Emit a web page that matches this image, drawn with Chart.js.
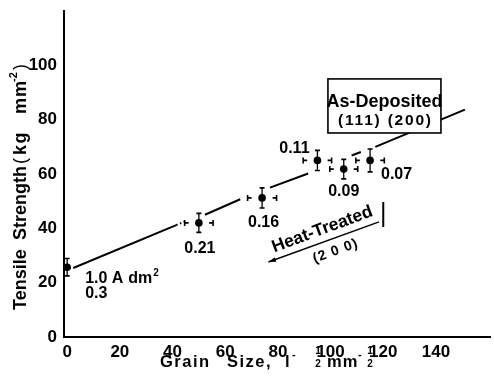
<!DOCTYPE html>
<html><head><meta charset="utf-8">
<script src="https://cdn.jsdelivr.net/npm/chart.js@4.4.1/dist/chart.umd.min.js"></script>
<style>html,body{margin:0;padding:0;background:#fff}canvas{display:block}</style>
</head><body>
<canvas id="c" width="494" height="380"></canvas>
<script>
// ---- data ----
const grainSize   = [0, 50, 74, 95, 105, 115];
const tensile     = [25.7, 42, 51.2, 65, 61.8, 65];
const tensileErr  = [3.2, 3.5, 3.7, 3.7, 3.6, 4.2];
const grainErr    = [0, 5.4, 5.5, 5.4, 5.3, 5.4];
const pointLabels = ['0.3', '0.21', '0.16', '0.11', '0.09', '0.07'];
const trendX  = [2.3, 41.4, 47, 52.3, 65.7, 71, 77, 91.5, 100, 108, 111.5, 114, 117, 151];
const trendY  = [25.4, 41.2, null, 45, 50.7, null, 55, 60.2, null, 66.8, 68.1, null, 70, 83.7];
const dottedX = [41.4, 45.5];
const dottedY = [41.2, 42.8];
const xTicks  = [0, 20, 40, 60, 80, 100, 120, 140];
const yTicks  = [0, 20, 40, 60, 80, 100];

// ---- styles ----
const FONT = 'Liberation Sans, Arial, sans-serif';
const labelOffsets = [null, [1, 26], [1.5, 25], [-23, -12], [0, 22.5], [26.5, 14]];

function txt(ctx, s, x, y, size, opts = {}) {
  ctx.save();
  ctx.font = (opts.weight || 'bold') + ' ' + size + 'px ' + FONT;
  ctx.fillStyle = '#000';
  ctx.textAlign = opts.align || 'left';
  ctx.textBaseline = opts.baseline || 'alphabetic';
  ctx.letterSpacing = (opts.ls || 0) + 'px';
  ctx.fillText(s, x, y);
  ctx.restore();
}

const decor = {
  id: 'decor',
  afterDatasetsDraw(chart) {
    const ctx = chart.ctx;
    const xs = chart.scales.x, ys = chart.scales.y;
    const px = v => xs.getPixelForValue(v), py = v => ys.getPixelForValue(v);
    ctx.save();
    ctx.strokeStyle = '#000';
    ctx.fillStyle = '#000';
    // error bars
    grainSize.forEach((g, i) => {
      const cx = px(g), cy = py(tensile[i]);
      const t = py(tensile[i] + tensileErr[i]), b = py(tensile[i] - tensileErr[i]);
      ctx.lineWidth = 1.3;
      ctx.beginPath(); ctx.moveTo(cx, t); ctx.lineTo(cx, b); ctx.stroke();
      ctx.lineWidth = 1.6;
      ctx.beginPath(); ctx.moveTo(cx - 2.5, t); ctx.lineTo(cx + 2.5, t);
      ctx.moveTo(cx - 2.5, b); ctx.lineTo(cx + 2.5, b); ctx.stroke();
      if (grainErr[i] > 0) {
        const l = px(g - grainErr[i]), r = px(g + grainErr[i]);
        ctx.beginPath();
        ctx.moveTo(l, cy - 3); ctx.lineTo(l, cy + 3);
        ctx.moveTo(l, cy); ctx.lineTo(l + 4, cy);
        ctx.moveTo(r, cy - 3); ctx.lineTo(r, cy + 3);
        ctx.moveTo(r, cy); ctx.lineTo(r - 4, cy);
        ctx.stroke();
      }
    });
    // point labels
    grainSize.forEach((g, i) => {
      const cx = px(g), cy = py(tensile[i]);
      if (i === 0) {
        txt(ctx, '1.0 A', cx + 18, cy + 16, 16);
        txt(ctx, 'dm', cx + 61, cy + 16, 16);
        txt(ctx, '2', cx + 86, cy + 9, 10);
        txt(ctx, pointLabels[0], cx + 18, cy + 31, 16);
      } else {
        const o = labelOffsets[i];
        txt(ctx, pointLabels[i], cx + o[0], cy + o[1], 16, {align: 'center', baseline: 'middle'});
      }
    });
    // As-Deposited box
    const bx1 = px(99), bx2 = px(141.9), by1 = py(95), by2 = py(75.1);
    ctx.fillStyle = '#fff';
    ctx.fillRect(bx1, by1, bx2 - bx1, by2 - by1);
    ctx.lineWidth = 1.6;
    ctx.strokeRect(bx1, by1, bx2 - bx1, by2 - by1);
    const bc = (bx1 + bx2) / 2;
    txt(ctx, 'As-Deposited', bc, py(84.8), 18, {align: 'center'});
    txt(ctx, '(111) (200)', bc + 1, py(78), 15.5, {align: 'center', ls: 1.8});
    // Heat-Treated annotation
    const ang = -20.3 * Math.PI / 180;
    ctx.save();
    ctx.translate(px(97.5), py(37.9));
    ctx.rotate(ang);
    txt(ctx, 'Heat-Treated', 0, 0, 17.5, {align: 'center'});
    txt(ctx, '(2 0 0)', 5, 20, 14, {align: 'center', baseline: 'middle', ls: 1});
    ctx.restore();
    // arrow
    const ax1 = px(118.4), ay1 = py(42.4), ax2 = px(76.4), ay2 = py(27.6);
    ctx.lineWidth = 1.4;
    ctx.strokeStyle = '#000';
    ctx.beginPath(); ctx.moveTo(ax1, ay1); ctx.lineTo(ax2, ay2); ctx.stroke();
    const a = Math.atan2(ay2 - ay1, ax2 - ax1);
    ctx.beginPath();
    ctx.moveTo(ax2, ay2);
    ctx.lineTo(ax2 - 8 * Math.cos(a - 0.3), ay2 - 8 * Math.sin(a - 0.3));
    ctx.lineTo(ax2 - 8 * Math.cos(a + 0.3), ay2 - 8 * Math.sin(a + 0.3));
    ctx.closePath(); ctx.fillStyle = '#000'; ctx.fill();
    // vertical bar
    ctx.lineWidth = 2;
    ctx.beginPath(); ctx.moveTo(px(120), py(49.7)); ctx.lineTo(px(120), py(40.5)); ctx.stroke();
    ctx.restore();

    // Y axis title (rotated)
    ctx.save();
    ctx.translate(26, 0);
    ctx.rotate(-Math.PI / 2);
    txt(ctx, 'Tensile', -310, 0, 18);
    txt(ctx, 'Strength', -240, 0, 18);
    txt(ctx, '(', -164, 0, 18, {weight: 'normal'});
    txt(ctx, 'kg', -155, 0, 18, {ls: 1.5});
    txt(ctx, 'mm', -114, 0, 18, {ls: 1});
    txt(ctx, '-2', -82, -9, 11);
    txt(ctx, ')', -70, 0, 18, {weight: 'normal'});
    ctx.restore();

    // X axis title
    const base = 366.5;
    txt(ctx, 'Grain', 160, base, 16.5, {ls: 1.5});
    txt(ctx, 'Size,', 227, base, 16.5, {ls: 1.5});
    txt(ctx, 'l', 285, base, 16.5);
    txt(ctx, '-', 292, base - 9, 11);
    txt(ctx, '1', 318, 354, 10, {align: 'center'});
    txt(ctx, '2', 318, 367, 10, {align: 'center'});
    txt(ctx, 'mm', 327, base, 16.5, {ls: 1});
    txt(ctx, '-', 358, base - 9, 11);
    txt(ctx, '1', 370, 354, 10, {align: 'center'});
    txt(ctx, '2', 370, 367, 10, {align: 'center'});
  }
};

const tickFont = {family: FONT, weight: 'bold', size: 17};
new Chart(document.getElementById('c'), {
  type: 'scatter',
  data: {
    datasets: [
      {type: 'line', data: trendX.map((x, i) => ({x, y: trendY[i]})), borderColor: '#000', borderWidth: 2,
       pointRadius: 0, spanGaps: false, fill: false, tension: 0},
      {type: 'line', data: dottedX.map((x, i) => ({x, y: dottedY[i]})), borderColor: '#000', borderWidth: 2,
       borderDash: [1.5, 2.5], pointRadius: 0, fill: false, tension: 0},
      {data: grainSize.map((x, i) => ({x, y: tensile[i]})), pointRadius: 3.8, backgroundColor: '#000',
       borderWidth: 0, pointHoverRadius: 3.8}
    ]
  },
  options: {
    responsive: false, animation: false,
    events: [],
    layout: {padding: {top: 11, right: 0, left: 0, bottom: 0}},
    plugins: {legend: {display: false}, tooltip: {enabled: false}},
    scales: {
      x: {
        type: 'linear', min: -1.2, max: 160.6,
        afterBuildTicks: s => { s.ticks = xTicks.map(v => ({value: v})); },
        afterFit: s => { s.height = 43; s.paddingLeft = 0; s.paddingRight = 0; },
        grid: {display: false, drawTicks: false},
        border: {display: true, width: 2, color: '#000'},
        ticks: {color: '#000', font: tickFont, padding: 5, maxRotation: 0, autoSkip: false}
      },
      y: {
        type: 'linear', min: 0, max: 120,
        afterBuildTicks: s => { s.ticks = yTicks.map(v => ({value: v})); },
        afterFit: s => { s.width = 64; s.paddingTop = 0; s.paddingBottom = 0; },
        grid: {display: false, drawTicks: false},
        border: {display: true, width: 2, color: '#000'},
        ticks: {color: '#000', font: tickFont, padding: 7, autoSkip: false}
      }
    }
  },
  plugins: [decor]
});
</script>
</body></html>
